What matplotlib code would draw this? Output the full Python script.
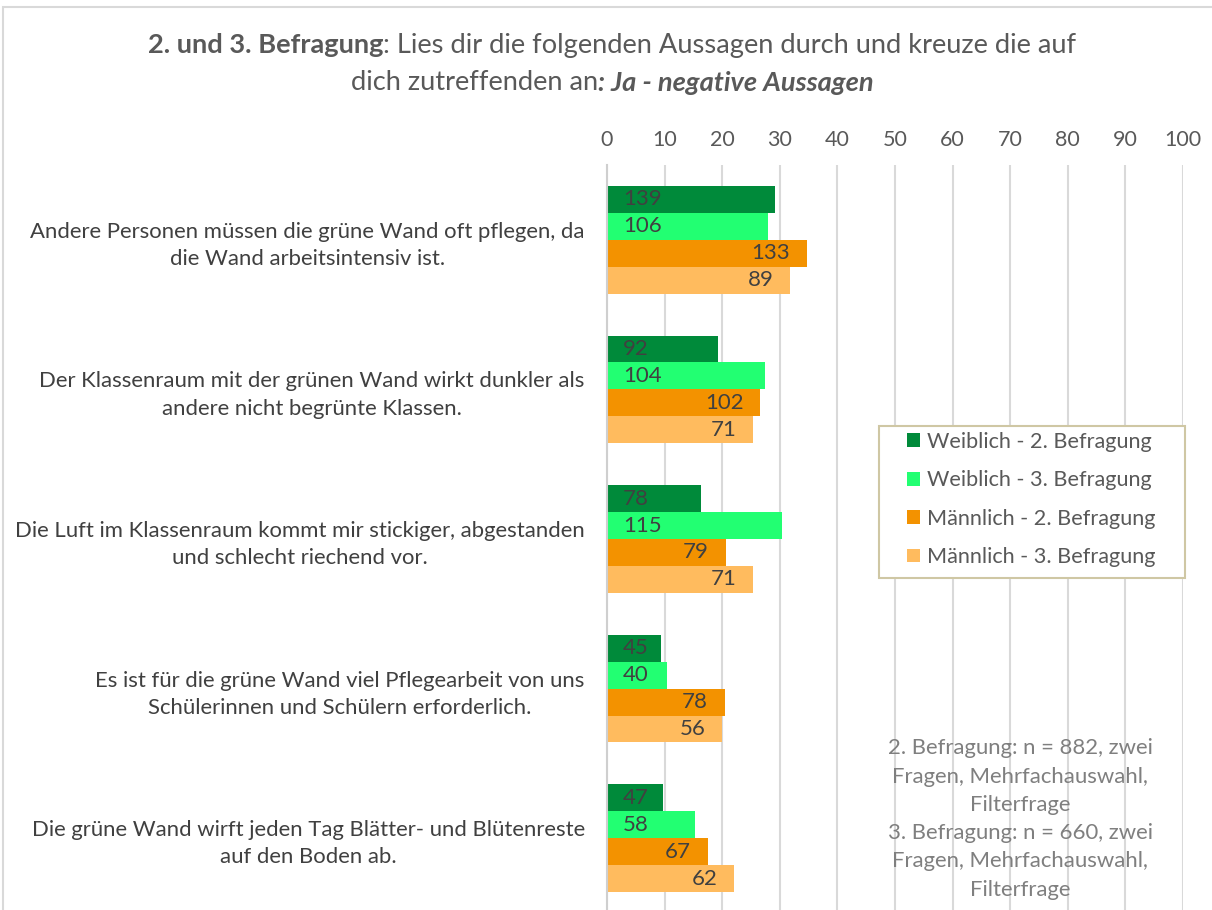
import numpy as np
import matplotlib
matplotlib.use("Agg")
import matplotlib.pyplot as plt
from matplotlib.patches import Rectangle

# statements (top to bottom)
statements = [
    "Andere Personen müssen die grüne Wand oft pflegen, da\ndie Wand arbeitsintensiv ist.",
    "Der Klassenraum mit der grünen Wand wirkt dunkler als\nandere nicht begrünte Klassen.",
    "Die Luft im Klassenraum kommt mir stickiger, abgestanden\nund schlecht riechend vor.",
    "Es ist für die grüne Wand viel Pflegearbeit von uns\nSchülerinnen und Schülern erforderlich.",
    "Die grüne Wand wirft jeden Tag Blätter- und Blütenreste\nauf den Boden ab.",
]
series_names = [
    "Weiblich - 2. Befragung",
    "Weiblich - 3. Befragung",
    "Männlich - 2. Befragung",
    "Männlich - 3. Befragung",
]
# percent values (bar length) and absolute counts (bar labels)
weiblich_2 = [29.1, 19.2, 16.3, 9.4, 9.8]
weiblich_3 = [27.9, 27.4, 30.3, 10.5, 15.3]
maennlich_2 = [34.7, 26.6, 20.6, 20.4, 17.5]
maennlich_3 = [31.8, 25.4, 25.4, 20.0, 22.1]
weiblich_2_n = [139, 92, 78, 45, 47]
weiblich_3_n = [106, 104, 115, 40, 58]
maennlich_2_n = [133, 102, 79, 78, 67]
maennlich_3_n = [89, 71, 71, 56, 62]
x_ticks = [0, 10, 20, 30, 40, 50, 60, 70, 80, 90, 100]

note = ("2. Befragung: n = 882, zwei\nFragen, Mehrfachauswahl,\nFilterfrage\n"
        "3. Befragung: n = 660, zwei\nFragen, Mehrfachauswahl,\nFilterfrage")

colors = ["#008A3A", "#22FF72", "#F39200", "#FFBB5E"]
FONT = "Lato"
plt.rcParams["font.family"] = [FONT, "DejaVu Sans"]

W, H = 1212, 910
fig = plt.figure(figsize=(W / 100, H / 100), dpi=100)
ax = fig.add_axes([607 / W, 1 - 913 / H, 576 / W, 748 / H])

values = [weiblich_2, weiblich_3, maennlich_2, maennlich_3]
counts = [weiblich_2_n, weiblich_3_n, maennlich_2_n, maennlich_3_n]
y = np.arange(len(statements))
bh = 0.18
offsets = [-1.5 * bh, -0.5 * bh, 0.5 * bh, 1.5 * bh]

for i, (vals, ns) in enumerate(zip(values, counts)):
    bars = ax.barh(y + offsets[i], vals, height=bh, color=colors[i],
                   label=series_names[i], zorder=2)
    for b, n in zip(bars, ns):
        yc = b.get_y() + b.get_height() / 2
        if i < 2:
            ax.annotate(str(n), (0, yc), xytext=(11.5, 0), textcoords="offset points",
                        ha="left", va="center", fontsize=16, color="#404040", zorder=3)
        else:
            ax.annotate(str(n), (b.get_width(), yc), xytext=(-12, 0), textcoords="offset points",
                        ha="right", va="center", fontsize=16, color="#404040", zorder=3)

ax.set_xlim(0, 100)
ax.set_ylim(len(statements) - 0.5, -0.5)
ax.set_xticks(x_ticks)
ax.xaxis.tick_top()
ax.tick_params(axis="x", length=0, pad=11, labelsize=15.5, labelcolor="#595959")
ax.tick_params(axis="y", length=0, pad=16, labelsize=15.9, labelcolor="#404040")
ax.set_yticks(y)
ax.set_yticklabels(statements, multialignment="center", linespacing=1.45)
ax.grid(axis="x", color="#d9d9d9", linewidth=1.5, zorder=0)
ax.set_axisbelow(True)
for s in ["top", "right", "bottom"]:
    ax.spines[s].set_visible(False)
ax.spines["left"].set_color("#cfcfcf")
ax.spines["left"].set_linewidth(1.5)

# legend box drawn separately (Excel-style wide padding)
fig.patches.append(Rectangle((879 / W, 1 - 578 / H), 306 / W, 152 / H, transform=fig.transFigure,
                             facecolor="white", edgecolor="#CFC7A4", linewidth=1.5, zorder=3))
leg = fig.legend(*ax.get_legend_handles_labels(), loc="upper left",
                 bbox_to_anchor=(907 / W, 1 - 432 / H), bbox_transform=fig.transFigure,
                 fontsize=15.6, frameon=False, handlelength=0.6, handleheight=0.6,
                 handletextpad=0.32, labelspacing=0.85, borderpad=0, borderaxespad=0,
                 labelcolor="#595959")
leg.set_zorder(4)

fig.text(1020 / W, 1 - 819 / H, note, ha="center", va="center", fontsize=15.9,
         color="#7F7F7F", linespacing=1.52)

# title with mixed styles
renderer = fig.canvas.get_renderer()


def rich_line(yc, parts, size=19.6, color="#595959"):
    texts = []
    for s, wgt, sty in parts:
        texts.append(fig.text(0, yc, s, fontsize=size, fontweight=wgt, fontstyle=sty,
                              color=color, ha="left", va="center"))
    widths = [t.get_window_extent(renderer).width for t in texts]
    x = 612 - sum(widths) / 2
    for t, w in zip(texts, widths):
        t.set_x(x / W)
        x += w


rich_line(1 - 45 / H, [("2. und 3. Befragung", "bold", "normal"),
                       (": Lies dir die folgenden Aussagen durch und kreuze die auf", "normal", "normal")])
rich_line(1 - 83 / H, [("dich zutreffenden an", "normal", "normal"),
                       (": Ja - negative Aussagen", "bold", "italic")])

fig.patches.append(Rectangle((3 / W, -0.1), 1.2, 1 - 7 / H + 0.1, transform=fig.transFigure,
                             fill=False, edgecolor="#d9d9d9", linewidth=1.5))

fig.savefig("out.png", dpi=100)
